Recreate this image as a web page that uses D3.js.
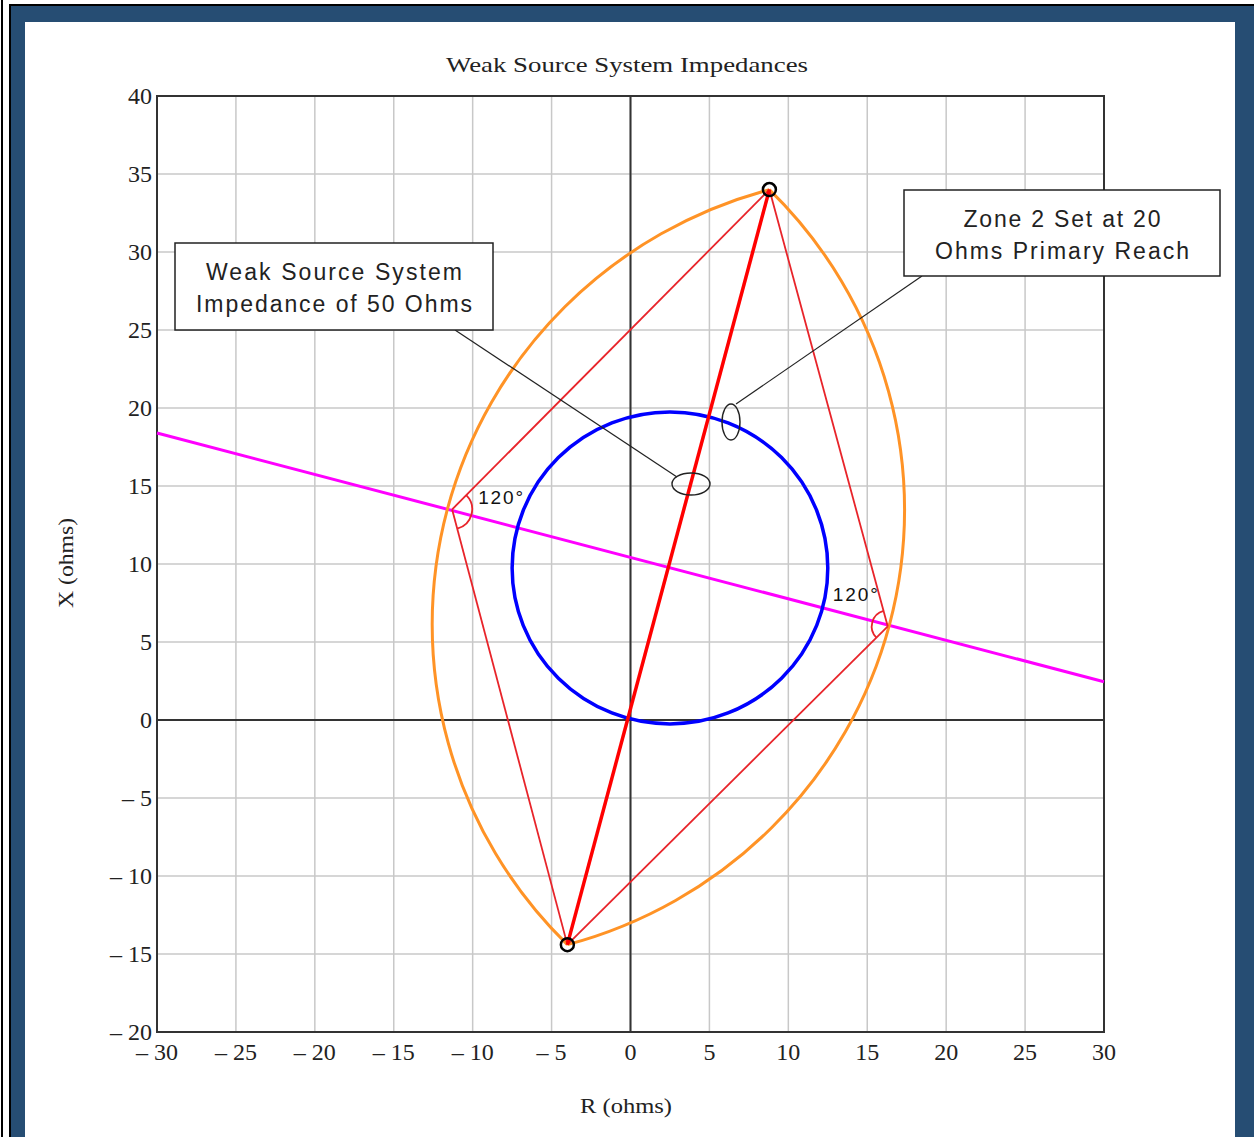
<!DOCTYPE html>
<html><head><meta charset="utf-8">
<script src="https://cdn.jsdelivr.net/npm/d3@7/dist/d3.min.js"></script>
<style>body{margin:0;background:#fff}svg{display:block}</style>
</head><body>
<svg id="c" width="1254" height="1137"></svg>
<script>
// ---- data (ohms) ----
const xTicks = [-30,-25,-20,-15,-10,-5,0,5,10,15,20,25,30];
const yTicks = [-20,-15,-10,-5,0,5,10,15,20,25,30,35,40];
const topPoint = [8.8, 34.0];
const bottomPoint = [-4.0, -14.4];
const leftPoint = [-11.3, 13.5];
const rightPoint = [16.3, 6.0];
const lensRadius = 28.87;              // 120° locus arcs
const mhoCenter = [2.5, 9.75];
const mhoRadius = 10;
const bisector = [[-30, 18.4], [30, 2.45]];
const angleLabel = "120°";
const calloutTexts = [["Weak Source System","Impedance of 50 Ohms"],["Zone 2 Set at 20","Ohms Primary Reach"]];

const svg = d3.select("#c");
const x = d3.scaleLinear([-30,30],[157,1104]);
const y = d3.scaleLinear([-20,40],[1032,96]);
const fmt = v => v < 0 ? "\u2013 " + Math.abs(v) : String(v);

// frame
svg.append("rect").attr("x",1).attr("y",0).attr("width",2).attr("height",1137).attr("fill","#000");
svg.append("rect").attr("x",9).attr("y",4).attr("width",1245).attr("height",2).attr("fill","#000");
svg.append("rect").attr("x",9).attr("y",4).attr("width",2).attr("height",1133).attr("fill","#000");
svg.append("rect").attr("x",11).attr("y",6).attr("width",1243).attr("height",1131).attr("fill","#264d73");
svg.append("rect").attr("x",25).attr("y",22).attr("width",1210).attr("height",1115).attr("fill","#fff");

// grid
const g = svg.append("g");
g.selectAll(".gx").data(xTicks).join("line")
  .attr("x1",d=>x(d)).attr("x2",d=>x(d)).attr("y1",y(40)).attr("y2",y(-20))
  .attr("stroke","#c8c8c8").attr("stroke-width",1.5);
g.selectAll(".gy").data(yTicks).join("line")
  .attr("y1",d=>y(d)).attr("y2",d=>y(d)).attr("x1",x(-30)).attr("x2",x(30))
  .attr("stroke","#c8c8c8").attr("stroke-width",1.5);
// axes through origin
g.append("line").attr("x1",x(0)).attr("x2",x(0)).attr("y1",y(40)).attr("y2",y(-20)).attr("stroke","#333").attr("stroke-width",2);
g.append("line").attr("y1",y(0)).attr("y2",y(0)).attr("x1",x(-30)).attr("x2",x(30)).attr("stroke","#333").attr("stroke-width",2);
// plot frame
g.append("rect").attr("x",x(-30)).attr("y",y(40)).attr("width",x(30)-x(-30)).attr("height",y(-20)-y(40))
  .attr("fill","none").attr("stroke","#333").attr("stroke-width",2);

// tick labels
const tf = "'Liberation Serif','Times New Roman',serif";
svg.selectAll(".xt").data(xTicks).join("text")
  .attr("x",d=>x(d)).attr("y",1060).attr("text-anchor","middle")
  .attr("font-family",tf).attr("font-size",24).attr("fill","#222").text(fmt);
svg.selectAll(".yt").data(yTicks).join("text")
  .attr("x",152).attr("y",d=>y(d)+8).attr("text-anchor","end")
  .attr("font-family",tf).attr("font-size",24).attr("fill","#222").text(fmt);

// title & axis labels
svg.append("text").attr("x",627).attr("y",72).attr("text-anchor","middle").attr("font-family",tf)
  .attr("font-size",22).attr("textLength",362).attr("lengthAdjust","spacingAndGlyphs").attr("fill","#222").text("Weak Source System Impedances");
svg.append("text").attr("x",626).attr("y",1113).attr("text-anchor","middle").attr("font-family",tf)
  .attr("font-size",22).attr("textLength",92).attr("lengthAdjust","spacingAndGlyphs").attr("fill","#222").text("R (ohms)");
svg.append("text").attr("transform","translate(73,563) rotate(-90)").attr("text-anchor","middle").attr("font-family",tf)
  .attr("font-size",22).attr("textLength",90).attr("lengthAdjust","spacingAndGlyphs").attr("fill","#222").text("X (ohms)");

const P = p => [x(p[0]), y(p[1])];

// magenta bisector
svg.append("path").attr("d", d3.line().x(d=>x(d[0])).y(d=>y(d[1]))(bisector))
  .attr("stroke","#ff00ff").attr("stroke-width",3).attr("fill","none");

// blue mho circle
svg.append("ellipse").attr("cx",x(mhoCenter[0])).attr("cy",y(mhoCenter[1]))
  .attr("rx",x(mhoRadius)-x(0)).attr("ry",y(0)-y(mhoRadius))
  .attr("fill","none").attr("stroke","#0000ff").attr("stroke-width",3.5);

// orange lens (two arcs)
const rx = x(lensRadius)-x(0), ry = y(0)-y(lensRadius);
const T = P(topPoint), B = P(bottomPoint);
svg.append("path").attr("d",`M${T[0]},${T[1]} A${rx},${ry} 0 0 0 ${B[0]},${B[1]}`)
  .attr("fill","none").attr("stroke","#ff9326").attr("stroke-width",3);
svg.append("path").attr("d",`M${T[0]},${T[1]} A${rx},${ry} 0 0 1 ${B[0]},${B[1]}`)
  .attr("fill","none").attr("stroke","#ff9326").attr("stroke-width",3);

// red triangle lines
const L = P(leftPoint), R = P(rightPoint);
const thin = [[leftPoint,topPoint],[leftPoint,bottomPoint],[rightPoint,topPoint],[rightPoint,bottomPoint]];
svg.selectAll(".rl").data(thin).join("line")
  .attr("x1",d=>x(d[0][0])).attr("y1",d=>y(d[0][1])).attr("x2",d=>x(d[1][0])).attr("y2",d=>y(d[1][1]))
  .attr("stroke","#e8242a").attr("stroke-width",1.8);
svg.append("line").attr("x1",B[0]).attr("y1",B[1]).attr("x2",T[0]).attr("y2",T[1])
  .attr("stroke","#ff0000").attr("stroke-width",3.5);

// angle arcs
function angArc(c, a, b, ccw, r){
  const a0 = Math.atan2(a[1]-c[1], a[0]-c[0]);
  const a1 = Math.atan2(b[1]-c[1], b[0]-c[0]);
  const p = d3.path();
  p.moveTo(c[0]+r*Math.cos(a0), c[1]+r*Math.sin(a0));
  p.arc(c[0], c[1], r, a0, a1, ccw);
  return p.toString();
}
svg.append("path").attr("d",angArc(L,T,B,false,20)).attr("fill","none").attr("stroke","#e8242a").attr("stroke-width",1.8);
svg.append("path").attr("d",angArc(R,T,B,true,16)).attr("fill","none").attr("stroke","#e8242a").attr("stroke-width",1.8);
const af = "Arial,'Liberation Sans',sans-serif";
svg.append("text").attr("x",L[0]+26).attr("y",L[1]-5).attr("font-family",af).attr("font-size",19)
  .attr("textLength",45).attr("lengthAdjust","spacing").attr("fill","#111").text(angleLabel);
svg.append("text").attr("x",R[0]-55).attr("y",R[1]-25).attr("font-family",af).attr("font-size",19)
  .attr("textLength",45).attr("lengthAdjust","spacing").attr("fill","#111").text(angleLabel);

// endpoint markers
svg.selectAll(".mk").data([topPoint,bottomPoint]).join("circle")
  .attr("cx",d=>x(d[0])).attr("cy",d=>y(d[1])).attr("r",6.5)
  .attr("fill","none").attr("stroke","#000").attr("stroke-width",2.5);

// callouts
svg.append("line").attr("x1",455).attr("y1",330).attr("x2",677).attr("y2",477).attr("stroke","#222").attr("stroke-width",1.2);
svg.append("line").attr("x1",922).attr("y1",276).attr("x2",736).attr("y2",404).attr("stroke","#222").attr("stroke-width",1.2);
svg.append("ellipse").attr("cx",691).attr("cy",484).attr("rx",19).attr("ry",11).attr("fill","none").attr("stroke","#222").attr("stroke-width",1.4);
svg.append("ellipse").attr("cx",731).attr("cy",422).attr("rx",9).attr("ry",18).attr("fill","none").attr("stroke","#222").attr("stroke-width",1.4);

const boxes = [{x:175,y:243,w:318,h:87},{x:904,y:190,w:316,h:86}];
boxes.forEach((b,i)=>{
  svg.append("rect").attr("x",b.x).attr("y",b.y).attr("width",b.w).attr("height",b.h)
    .attr("fill","#fff").attr("stroke","#222").attr("stroke-width",1.5);
});
const lens = [[256,276],[197,254]];
calloutTexts.forEach((lines,i)=>{
  const b = boxes[i];
  lines.forEach((t,j)=>{
    svg.append("text").attr("x",b.x+b.w/2).attr("y",b.y+37+j*32).attr("text-anchor","middle")
      .attr("font-family",af).attr("font-size",23).attr("fill","#222")
      .attr("textLength",lens[i][j]).attr("lengthAdjust","spacing").text(t);
  });
});
</script>
</body></html>
